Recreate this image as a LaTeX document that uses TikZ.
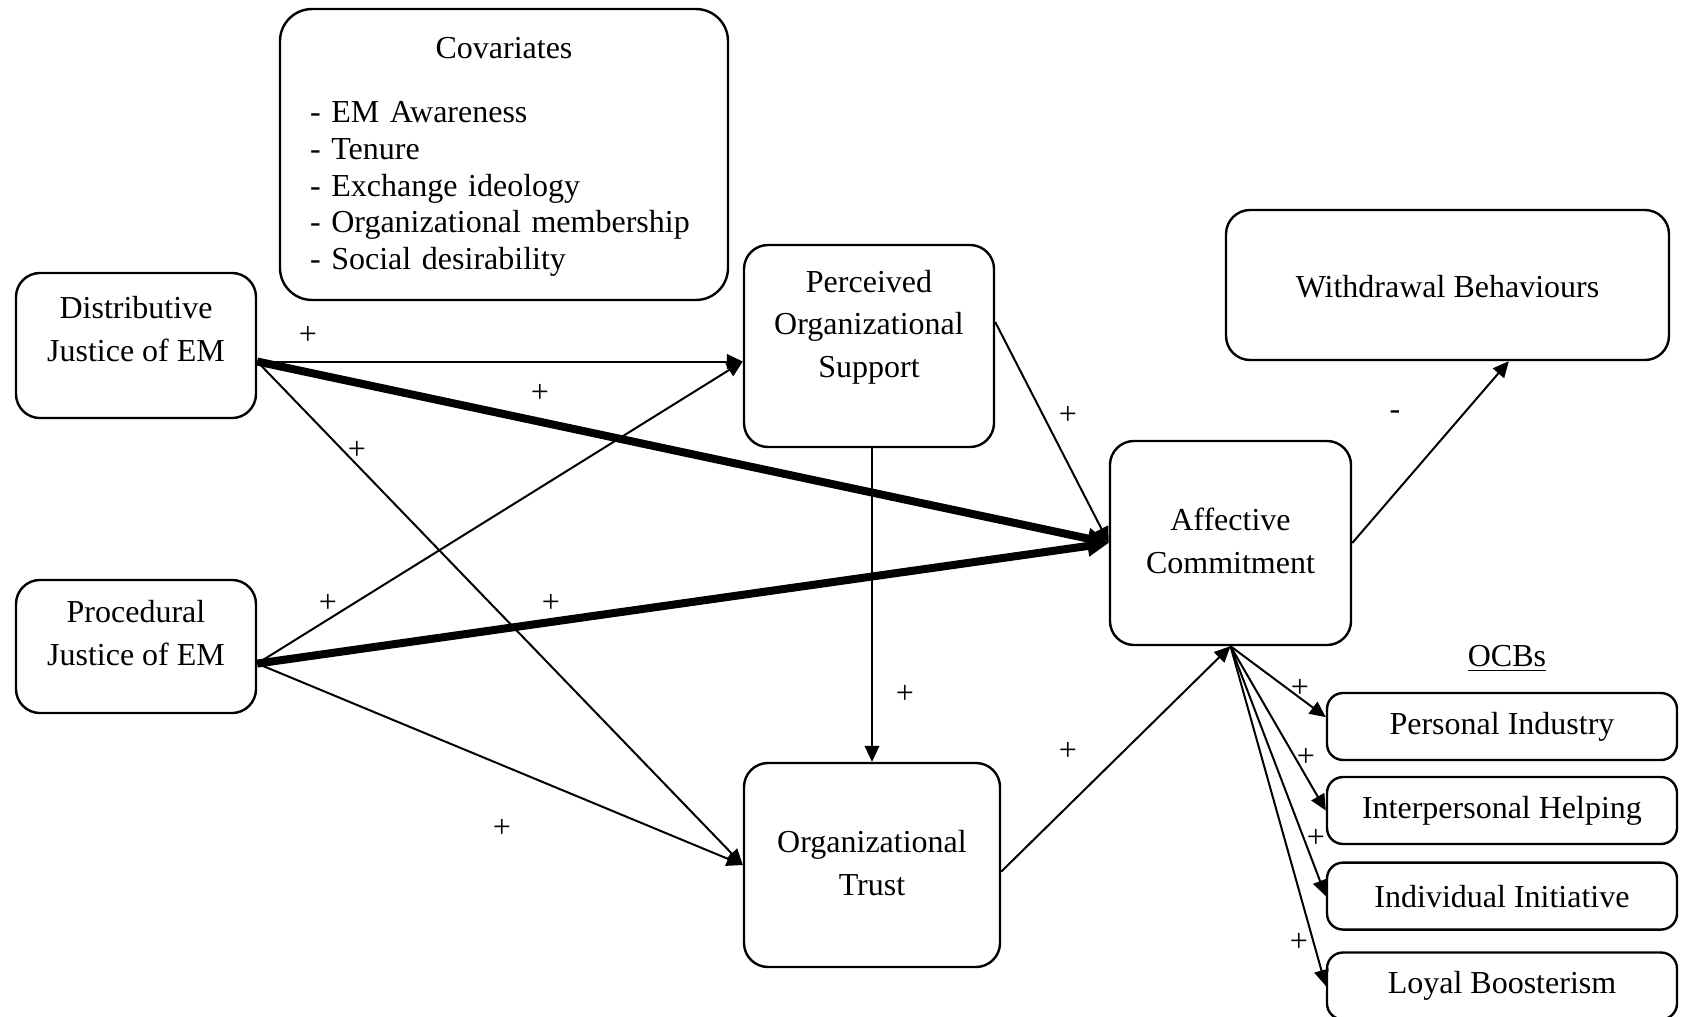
\documentclass[tikz,border=0pt]{standalone}
\usepackage{fontspec}
\setmainfont{Liberation Serif}
\usetikzlibrary{arrows.meta,positioning}

\begin{document}
\begin{tikzpicture}[
  x=0.375pt,y=-0.375pt,
  font=\fontsize{12}{16.1}\selectfont,
  box/.style={draw,line width=0.9pt,rounded corners=9pt,align=center,inner sep=2pt},
  ocb/.style={box,rounded corners=6pt,minimum width=131.25pt,minimum height=25.1pt},
  sign/.style={inner sep=0pt},
  arr/.style={-{Triangle[length=6pt,width=5.5pt]},line width=0.75pt},
  bigarr/.style={-{Triangle[length=8pt,width=7.5pt]},line width=3pt}
]
\useasboundingbox (0,0) rectangle (1686,1017);

% justice of EM
\node[box,minimum width=90pt,minimum height=54.4pt,text depth=12.8pt] (dj) at (136,345.5) {Distributive\\Justice of EM};
\node[box,minimum width=90pt,minimum height=49.9pt,text depth=10pt] (pj) at (136,646.5) {Procedural\\Justice of EM};

% covariates
\node[box,rounded corners=12pt,minimum width=168pt,minimum height=109.1pt,
      text width=145.5pt,align=left,inner xsep=11.25pt,
      font=\fontsize{12}{13.8}\selectfont] (cov) at (504,154.5)
  {\centering\rule{0pt}{9.8pt}Covariates\par\vspace{10.2pt}\raggedright
   - EM Awareness\\
   - Tenure\\
   - Exchange ideology\\
   - Organizational membership\\
   - Social desirability};

% mediators and outcomes
\node[box,minimum width=93.75pt,minimum height=75.75pt,text depth=16.6pt] (pos) at (869,346) {Perceived\\Organizational\\Support};
\node[box,minimum width=96pt,minimum height=76.5pt,text depth=1.5pt] (ot) at (872,865) {Organizational\\Trust};
\node[box,minimum width=90.4pt,minimum height=76.5pt,text depth=1.6pt] (ac) at (1230.5,543) {Affective\\Commitment};
\node[box,minimum width=166.1pt,minimum height=56.25pt,text height=9.8pt] (wb) at (1447.5,285) {Withdrawal Behaviours};

% OCBs
\node (ocbs) at (1507,659) {\underline{OCBs}};
\node[ocb] (pind) at (1502,726.5) {Personal Industry};
\node[ocb,below=5.5pt of pind] (ihelp) {Interpersonal Helping};
\node[ocb,below=6.1pt of ihelp] (iinit) {Individual Initiative};
\node[ocb,below=7.7pt of iinit] (loyal) {Loyal Boosterism};

\coordinate (djout) at ([yshift=-6pt]dj.east);
\coordinate (pjout) at ([yshift=-6.4pt]pj.east);
\coordinate (posin) at (djout -| pos.west);

% arrows
\draw[arr] (djout) -- (posin);
\draw[bigarr] (djout) -- (ac.west);
\draw[arr] (djout) -- (ot.west);
\draw[arr] (pjout) -- (posin);
\draw[bigarr] (pjout) -- (ac.west);
\draw[arr] (pjout) -- (ot.west);
\draw[arr] ([yshift=9pt]pos.east) -- (ac.west);
\draw[arr] (pos.south -| ot.north) -- (ot.north);
\draw[arr] ([yshift=-2.5pt]ot.east) -- (ac.south);
\draw[arr] (ac.east) -- ([xshift=23pt]wb.south);
\draw[arr] (ac.south) -- ([yshift=3.5pt]pind.west);
\draw[arr] (ac.south) -- (ihelp.west);
\draw[arr] (ac.south) -- (iinit.west);
\draw[arr] (ac.south) -- (loyal.west);

% signs
\node[sign] (s1) at (308,335) {+};
\node[sign] (s2) at (540,393) {+};
\node[sign] (s3) at (357,450) {+};
\node[sign] (s4) at (328,603) {+};
\node[sign] (s5) at (551,603) {+};
\node[sign] (s6) at (502,828) {+};
\node[sign] (s7) at (1068,415) {+};
\node[sign] (s8) at (905,694) {+};
\node[sign] (s9) at (1068,751) {+};
\node[sign] (s10) at (1395,415) {-};
\node[sign] (s11) at (1300,688) {+};
\node[sign] (s12) at (1306,757) {+};
\node[sign] (s13) at (1316,838) {+};
\node[sign] (s14) at (1299,942) {+};
\end{tikzpicture}
\end{document}
